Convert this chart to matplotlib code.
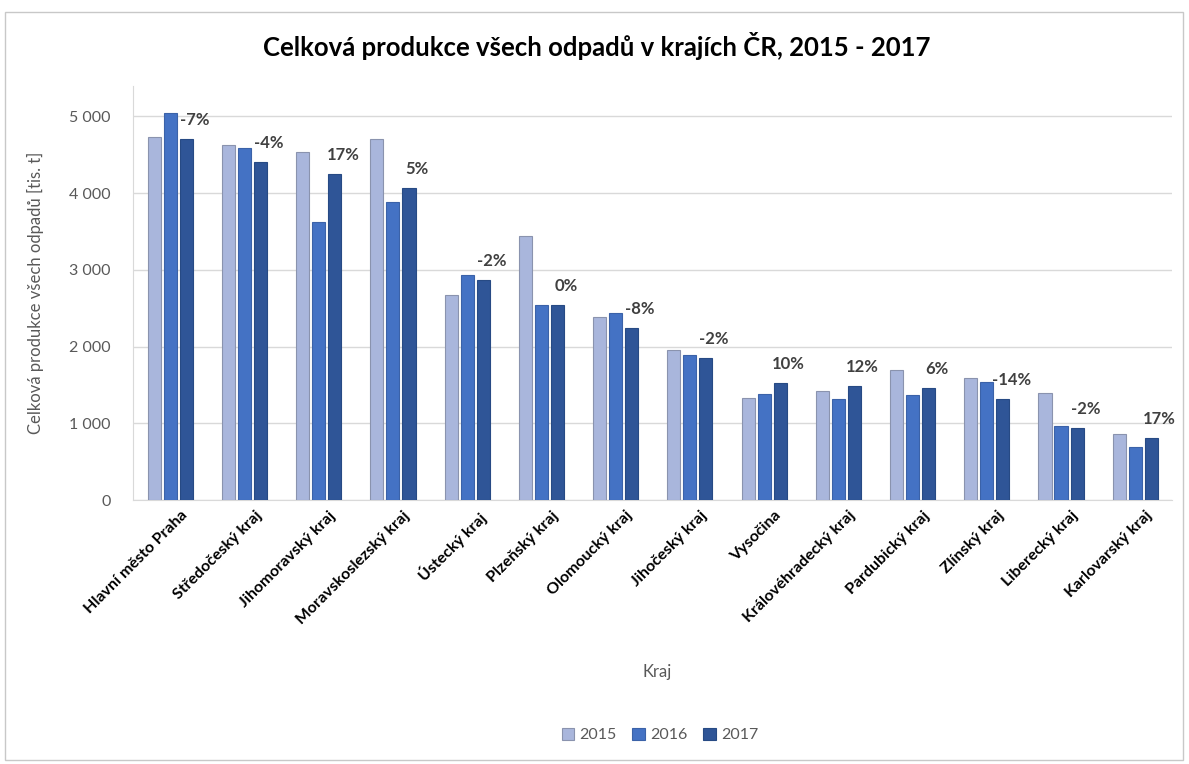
import matplotlib.pyplot as plt
import matplotlib.patches as patches
import matplotlib.transforms as mtransforms
import numpy as np

# data (tis. t)
regions = ["Hlavní město Praha", "Středočeský kraj", "Jihomoravský kraj",
           "Moravskoslezský kraj", "Ústecký kraj", "Plzeňský kraj",
           "Olomoucký kraj", "Jihočeský kraj", "Vysočina",
           "Královéhradecký kraj", "Pardubický kraj", "Zlínský kraj",
           "Liberecký kraj", "Karlovarský kraj"]
y2015 = [4727, 4622, 4531, 4700, 2669, 3437, 2383, 1953, 1328, 1419, 1693, 1589, 1393, 859]
y2016 = [5039, 4583, 3620, 3880, 2930, 2539, 2435, 1890, 1380, 1320, 1375, 1536, 960, 690]
y2017 = [4700, 4401, 4245, 4070, 2870, 2539, 2240, 1850, 1523, 1480, 1458, 1315, 940, 807]
change_labels = ["-7%", "-4%", "17%", "5%", "-2%", "0%", "-8%", "-2%",
                 "10%", "12%", "6%", "-14%", "-2%", "17%"]
years = ["2015", "2016", "2017"]

plt.rcParams['font.family'] = ['Lato', 'DejaVu Sans']

fig = plt.figure(figsize=(11.89, 7.64), dpi=100)
ax = fig.add_axes([0.112, 0.3455, 0.874, 0.5425])

x = np.arange(len(regions))
w = 0.176
step = 0.216
colors = ["#A9B6DC", "#4472C4", "#2F5597"]
edges = ["#8A93AE", "#3B62A8", "#274A84"]
for i, (vals, yr) in enumerate(zip([y2015, y2016, y2017], years)):
    ax.bar(x + (i - 1) * step, vals, width=w, color=colors[i],
           edgecolor=edges[i], linewidth=0.8, label=yr, zorder=3)

# percentage change labels above the 2017 bars
for xi, v, lab in zip(x, y2017, change_labels):
    ax.annotate(lab, (xi + step, v), xytext=(6, 8), textcoords="offset points",
                ha="center", va="bottom", fontsize=12, fontweight="bold",
                color="#404040")

ax.set_xlim(-0.5, len(regions) - 0.5)
ax.set_ylim(0, 5400)
ax.set_yticks(range(0, 6000, 1000))
ax.set_yticklabels(["0", "1 000", "2 000", "3 000", "4 000", "5 000"])
ax.yaxis.grid(True, color="#D9D9D9", linewidth=1, zorder=0)
ax.set_axisbelow(True)
for s in ["top", "right"]:
    ax.spines[s].set_visible(False)
ax.spines["left"].set_color("#D9D9D9")
ax.spines["bottom"].set_color("#D9D9D9")
ax.tick_params(axis="both", length=0)
ax.tick_params(axis="y", labelsize=11.5, labelcolor="#595959", pad=16)

ax.set_xticks(x)
ax.set_xticklabels(regions, rotation=45, ha="right", rotation_mode="anchor",
                   fontsize=11.5, fontweight="bold", color="black")
ax.tick_params(axis="x", pad=6)
shift = mtransforms.ScaledTranslation(10 / 100, 0, fig.dpi_scale_trans)
for t in ax.get_xticklabels():
    t.set_transform(t.get_transform() + shift)

ax.set_ylabel("Celková produkce všech odpadů [tis. t]", fontsize=12,
              color="#595959", labelpad=18)
fig.text(0.553, 0.121, "Kraj", ha="center", va="center", fontsize=12, color="#595959")
fig.text(0.502, 0.94, "Celková produkce všech odpadů v krajích ČR, 2015 - 2017",
         ha="center", va="center", fontsize=18.5, fontweight="bold", color="black")

fig.legend(loc="center", bbox_to_anchor=(0.555, 0.038), ncol=3, frameon=False,
           fontsize=11.5, handlelength=0.8, handleheight=0.8, columnspacing=1.0,
           handletextpad=0.3, labelcolor="#595959")

# outer frame of the chart
fig.patches.append(patches.Rectangle((5 / 1189, 4 / 764), 1178 / 1189, 748 / 764,
                                     transform=fig.transFigure, fill=False,
                                     edgecolor="#C8C8C8", linewidth=1))

fig.savefig("out.png", dpi=100)
